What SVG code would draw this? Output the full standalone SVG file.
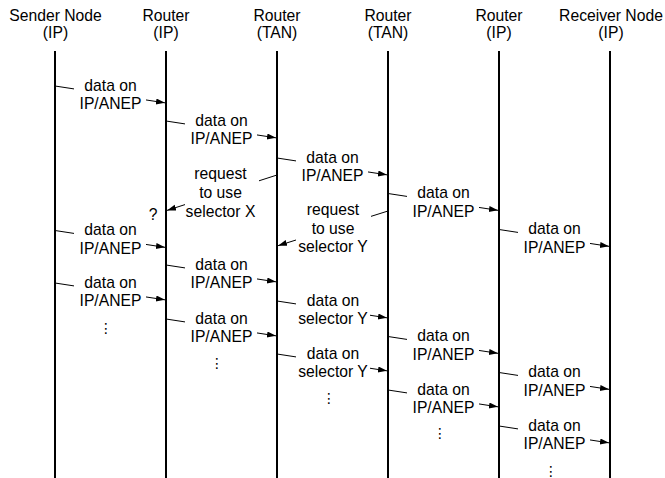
<svg xmlns="http://www.w3.org/2000/svg" width="665" height="478" viewBox="0 0 665 478">
<style>
.ll{stroke:#000;stroke-width:2}
.m{stroke:#000;stroke-width:1;fill:none}
.a{marker-end:url(#ah)}
text{font-family:"Liberation Sans",Arial,sans-serif;font-size:15.7px;text-anchor:middle;fill:#000}
.el{font-family:"DejaVu Sans",sans-serif;font-size:14px}
</style>
<defs>
<marker id="ah" markerUnits="userSpaceOnUse" markerWidth="10" markerHeight="8" refX="9" refY="3" orient="auto">
<path d="M0,0 L9,3 L0,6 z" fill="#000"/>
</marker>
</defs>
<rect width="665" height="478" fill="#fff"/>
<g id="sender"><text x="55.5" y="20.5">Sender Node</text><text x="55.5" y="38">(IP)</text><line class="ll" x1="55" y1="51" x2="55" y2="478"/></g>
<g id="router1"><text x="166" y="20.5">Router</text><text x="166" y="38">(IP)</text><line class="ll" x1="166" y1="51" x2="166" y2="478"/></g>
<g id="router2"><text x="277" y="20.5">Router</text><text x="277" y="38">(TAN)</text><line class="ll" x1="277" y1="51" x2="277" y2="478"/></g>
<g id="router3"><text x="388" y="20.5">Router</text><text x="388" y="38">(TAN)</text><line class="ll" x1="388" y1="51" x2="388" y2="478"/></g>
<g id="router4"><text x="499" y="20.5">Router</text><text x="499" y="38">(IP)</text><line class="ll" x1="499" y1="51" x2="499" y2="478"/></g>
<g id="receiver"><text x="611" y="20.5">Receiver Node</text><text x="611" y="38">(IP)</text><line class="ll" x1="610" y1="51" x2="610" y2="478"/></g>
<g id="connectors">
<line class="m" x1="55" y1="86" x2="74" y2="88.91"/><line class="m a" x1="146" y1="99.94" x2="165" y2="102.85"/>
<line class="m" x1="166" y1="121" x2="185" y2="123.91"/><line class="m a" x1="257" y1="134.94" x2="276" y2="137.85"/>
<line class="m" x1="277" y1="158" x2="296" y2="160.91"/><line class="m a" x1="368" y1="171.94" x2="387" y2="174.85"/>
<line class="m" x1="277" y1="175" x2="259" y2="180.8"/><line class="m a" x1="185" y1="204.6" x2="167" y2="210.4"/>
<line class="m" x1="388" y1="193.5" x2="407" y2="196.41"/><line class="m a" x1="479" y1="207.44" x2="498" y2="210.35"/>
<line class="m" x1="388" y1="211" x2="371" y2="216.36"/><line class="m a" x1="296" y1="240" x2="278" y2="245.7"/>
<line class="m" x1="499" y1="229.5" x2="518" y2="232.41"/><line class="m a" x1="590" y1="243.44" x2="609" y2="246.35"/>
<line class="m" x1="55" y1="230.5" x2="74" y2="233.41"/><line class="m a" x1="146" y1="244.44" x2="165" y2="247.35"/>
<line class="m" x1="166" y1="265" x2="185" y2="267.91"/><line class="m a" x1="257" y1="278.94" x2="276" y2="281.85"/>
<line class="m" x1="55" y1="283" x2="74" y2="285.91"/><line class="m a" x1="146" y1="296.94" x2="165" y2="299.85"/>
<line class="m" x1="277" y1="301" x2="296" y2="303.91"/><line class="m a" x1="370" y1="315.24" x2="387" y2="317.85"/>
<line class="m" x1="166" y1="319" x2="185" y2="321.91"/><line class="m a" x1="257" y1="332.94" x2="276" y2="335.85"/>
<line class="m" x1="388" y1="336.5" x2="407" y2="339.41"/><line class="m a" x1="479" y1="350.44" x2="498" y2="353.35"/>
<line class="m" x1="277" y1="354" x2="296" y2="356.91"/><line class="m a" x1="370" y1="368.24" x2="387" y2="370.85"/>
<line class="m" x1="499" y1="372.5" x2="518" y2="375.41"/><line class="m a" x1="590" y1="386.44" x2="609" y2="389.35"/>
<line class="m" x1="388" y1="390" x2="407" y2="392.91"/><line class="m a" x1="479" y1="403.94" x2="498" y2="406.85"/>
<line class="m" x1="499" y1="426" x2="518" y2="428.91"/><line class="m a" x1="590" y1="439.94" x2="609" y2="442.85"/>
</g>
<g id="labels">
<text x="110.5" y="90.5">data on</text><text x="110.5" y="109">IP/ANEP</text>
<text x="221.5" y="125.5">data on</text><text x="221.5" y="144">IP/ANEP</text>
<text x="332.5" y="162.5">data on</text><text x="332.5" y="181">IP/ANEP</text>
<text x="220.5" y="179">request</text><text x="220.5" y="198">to use</text><text x="220.5" y="216.5">selector X</text>
<text x="153" y="219.5">?</text>
<text x="443.5" y="198">data on</text><text x="443.5" y="216.5">IP/ANEP</text>
<text x="333" y="215">request</text><text x="333" y="233.5">to use</text><text x="333" y="252">selector Y</text>
<text x="554.5" y="234">data on</text><text x="554.5" y="252.5">IP/ANEP</text>
<text x="110.5" y="235">data on</text><text x="110.5" y="253.5">IP/ANEP</text>
<text x="221.5" y="269.5">data on</text><text x="221.5" y="288">IP/ANEP</text>
<text x="110.5" y="287.5">data on</text><text x="110.5" y="306">IP/ANEP</text>
<text x="333" y="305.5">data on</text><text x="333" y="324">selector Y</text>
<text x="221.5" y="323.5">data on</text><text x="221.5" y="342">IP/ANEP</text>
<text x="443.5" y="341">data on</text><text x="443.5" y="359.5">IP/ANEP</text>
<text x="333" y="358.5">data on</text><text x="333" y="377">selector Y</text>
<text x="554.5" y="377">data on</text><text x="554.5" y="395.5">IP/ANEP</text>
<text x="443.5" y="394.5">data on</text><text x="443.5" y="413">IP/ANEP</text>
<text x="554.5" y="430.5">data on</text><text x="554.5" y="449">IP/ANEP</text>
<text class="el" x="106" y="333">⋮</text>
<text class="el" x="217" y="368">⋮</text>
<text class="el" x="329" y="403">⋮</text>
<text class="el" x="440" y="438">⋮</text>
<text class="el" x="551" y="475.5">⋮</text>
</g>
</svg>
